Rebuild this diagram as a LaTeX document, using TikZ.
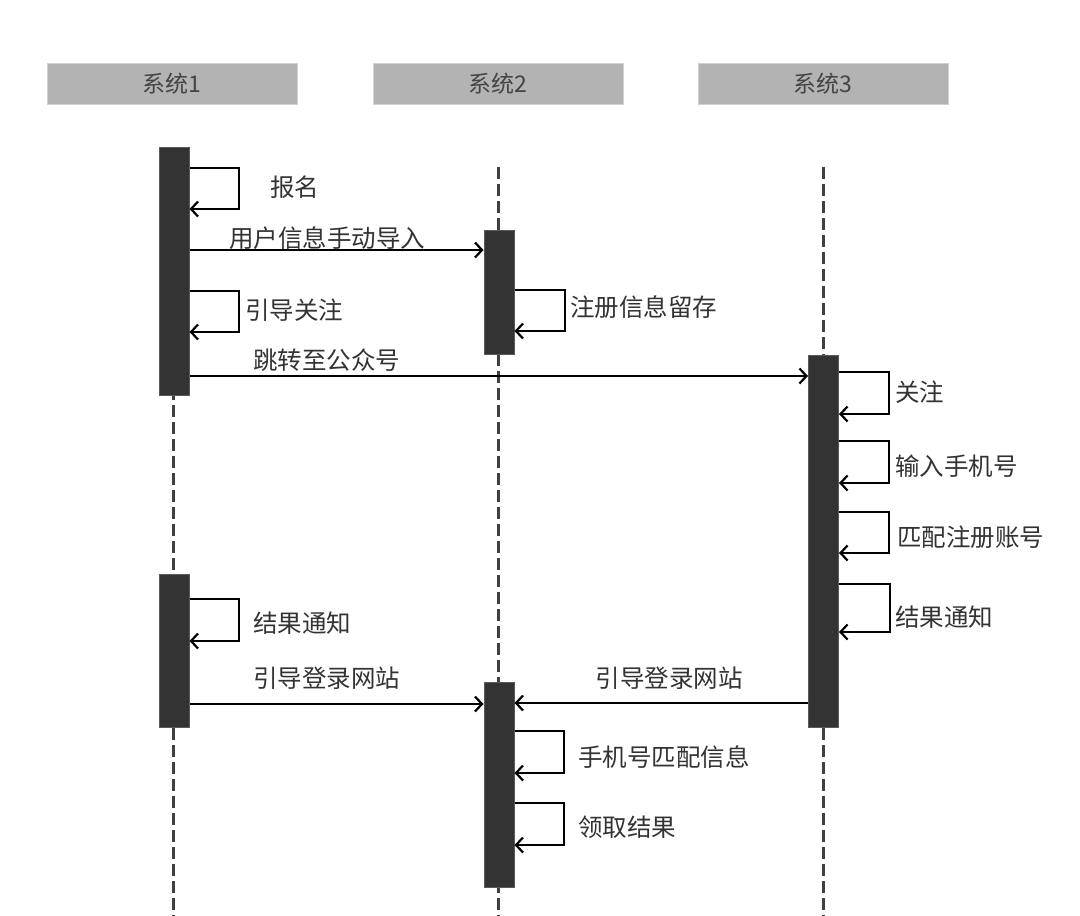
\documentclass[tikz,border=0pt]{standalone}
\usepackage{fontspec}
\setmainfont{Noto Sans CJK SC}
\usetikzlibrary{arrows.meta}
\definecolor{barfill}{HTML}{333333}
\definecolor{barline}{HTML}{5A5A5A}
\definecolor{hdrfill}{HTML}{B3B3B3}
\definecolor{hdrline}{HTML}{D2D2D2}
\definecolor{hdrtext}{HTML}{444444}
\definecolor{txt}{HTML}{333333}
\definecolor{lifec}{HTML}{404040}
\tikzset{
  hdr/.style={rectangle, fill=hdrfill, draw=hdrline, line width=1pt, minimum width=250pt, minimum height=41pt, inner sep=0pt, text=hdrtext, font=\fontsize{23}{24}\selectfont},
  bar/.style={rectangle, fill=barfill, draw=barline, line width=1pt, minimum width=30pt, inner sep=0pt},
  life/.style={draw=lifec, line width=2.2pt, dash pattern=on 12pt off 5pt},
  msg/.style={draw=black, line width=2.2pt, -{Straight Barb[length=7pt,width=15pt,line width=2.2pt]}},
  lbl/.style={anchor=west, inner sep=0pt, text=txt, font=\fontsize{24.5}{26}\selectfont},
  clbl/.style={anchor=center, inner sep=0pt, text=txt, font=\fontsize{24.5}{26}\selectfont},
}
\begin{document}
\begin{tikzpicture}[x=1pt,y=-1pt]
\useasboundingbox (0,0) rectangle (1080,916);
\fill[white] (0,0) rectangle (1080,916);
% headers
\node[hdr] (h1) at (172,83.5) {系统1};
\node[hdr] (h2) at (498,83.5) {系统2};
\node[hdr] (h3) at (823,83.5) {系统3};
% lifelines
\coordinate (l1t) at (173.5,167); \coordinate (l1b) at (173.5,916);
\coordinate (l2t) at (498.5,167); \coordinate (l2b) at (498.5,916);
\coordinate (l3t) at (823.5,167); \coordinate (l3b) at (823.5,916);
\draw[life] (l1t) -- (l1b);
\draw[life] (l2t) -- (l2b);
\draw[life] (l3t) -- (l3b);
% activation bars
\node[bar, minimum height=248pt] (s1a) at (174,271) {};
\node[bar, minimum height=153pt] (s1b) at (174,650.5) {};
\node[bar, minimum height=124pt] (s2a) at (499,292) {};
\node[bar, minimum height=205pt] (s2b) at (499,784.5) {};
\node[bar, minimum height=372pt] (s3) at (823.5,541) {};
% self loops system1
\draw[msg] (s1a.east |- 0,168) -- (239,168) |- (s1a.east |- 0,209);
\node[lbl] (t1) at (270,187) {报名};
\draw[msg] (s1a.east |- 0,291) -- (239,291) |- (s1a.east |- 0,332);
\node[lbl] (t2) at (245,310) {引导关注};
\draw[msg] (s1b.east |- 0,599) -- (239,599) |- (s1b.east |- 0,641);
\node[lbl] (t3) at (253,623) {结果通知};
% self loops system2
\draw[msg] (s2a.east |- 0,290) -- (565,290) |- (s2a.east |- 0,331);
\node[lbl] (t4) at (570,307) {注册信息留存};
\draw[msg] (s2b.east |- 0,731) -- (564,731) |- (s2b.east |- 0,773);
\node[lbl] (t5) at (578,757) {手机号匹配信息};
\draw[msg] (s2b.east |- 0,803) -- (564,803) |- (s2b.east |- 0,845);
\node[lbl] (t6) at (578,827) {领取结果};
% self loops system3
\draw[msg] (s3.east |- 0,372) -- (889,372) |- (s3.east |- 0,414);
\node[lbl] (t7) at (895,392) {关注};
\draw[msg] (s3.east |- 0,441) -- (889,441) |- (s3.east |- 0,483);
\node[lbl] (t8) at (895,466) {输入手机号};
\draw[msg] (s3.east |- 0,512) -- (889,512) |- (s3.east |- 0,553);
\node[lbl] (t9) at (897,537) {匹配注册账号};
\draw[msg] (s3.east |- 0,584) -- (890,584) |- (s3.east |- 0,632);
\node[lbl] (t10) at (895,617) {结果通知};
% messages
\draw[msg] (s1a.east |- 0,250) -- (s2a.west |- 0,250);
\node[clbl] (m1) at (327,238) {用户信息手动导入};
\draw[msg] (s1a.east |- 0,376) -- (s3.west |- 0,376);
\node[clbl] (m2) at (326.5,360) {跳转至公众号};
\draw[msg] (s1b.east |- 0,704) -- (s2b.west |- 0,704);
\node[clbl] (m3) at (326.5,678) {引导登录网站};
\draw[msg] (s3.west |- 0,703) -- (s2b.east |- 0,703);
\node[clbl] (m4) at (669,678) {引导登录网站};
\end{tikzpicture}
\end{document}
